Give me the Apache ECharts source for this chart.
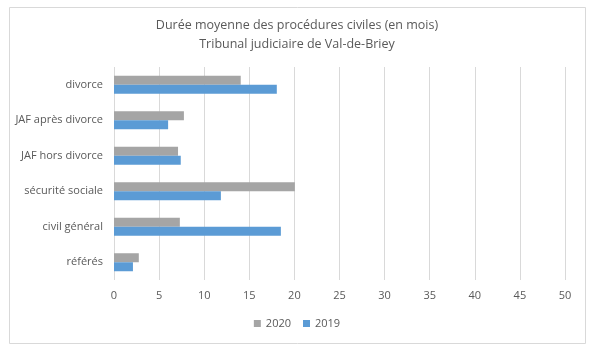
<!DOCTYPE html>
<html><head><meta charset="utf-8">
<script src="https://cdn.jsdelivr.net/npm/echarts@6/dist/echarts.min.js"></script>
<style>html,body{margin:0;padding:0;background:#fff}#c{width:594px;height:361px}</style>
</head><body><div id="c"></div>
<script>
const categories = ['référés', 'civil général', 'sécurité sociale', 'JAF hors divorce', 'JAF après divorce', 'divorce'];
const values2019 = [2.1, 18.5, 11.85, 7.4, 6.0, 18.05];
const values2020 = [2.75, 7.3, 20.05, 7.1, 7.75, 14.05];
const xTicks = {min: 0, max: 50, interval: 5};
const titleText = 'Durée moyenne des procédures civiles (en mois)\nTribunal judiciaire de Val-de-Briey';

const font = 'Open Sans';
const chart = echarts.init(document.getElementById('c'), null, {renderer: 'canvas'});
chart.setOption({
  animation: false,
  backgroundColor: '#fff',
  graphic: [{type: 'rect', shape: {x: 9.5, y: 7.5, width: 576, height: 336}, style: {fill: 'none', stroke: '#D9D9D9', lineWidth: 1}, silent: true}],
  title: {text: titleText, left: 'center', top: 11,
    textStyle: {fontFamily: font, fontSize: 12.5, fontWeight: 'normal', color: '#595959', lineHeight: 19}},
  legend: {data: ['2020', '2019'], bottom: 27, left: 'center', itemWidth: 7, itemHeight: 7, itemGap: 12,
    icon: 'rect', textStyle: {fontFamily: font, fontSize: 11, color: '#595959'}},
  grid: {left: 114, right: 29, top: 67, bottom: 81, containLabel: false},
  xAxis: {type: 'value', min: xTicks.min, max: xTicks.max, interval: xTicks.interval,
    axisLine: {show: false}, axisTick: {show: false},
    splitLine: {lineStyle: {color: '#D9D9D9'}},
    axisLabel: {fontFamily: font, fontSize: 11, color: '#595959', margin: 10}},
  yAxis: {type: 'category', data: categories,
    axisLine: {show: false}, axisTick: {show: false},
    axisLabel: {fontFamily: font, fontSize: 11, color: '#595959', margin: 11}},
  series: [
    {name: '2020', type: 'bar', data: values2020, itemStyle: {color: '#A5A5A5'}, barWidth: 9, barGap: '0%'},
    {name: '2019', type: 'bar', data: values2019, itemStyle: {color: '#5B9BD5'}, barWidth: 9, barGap: '0%'}
  ]
});
</script></body></html>
